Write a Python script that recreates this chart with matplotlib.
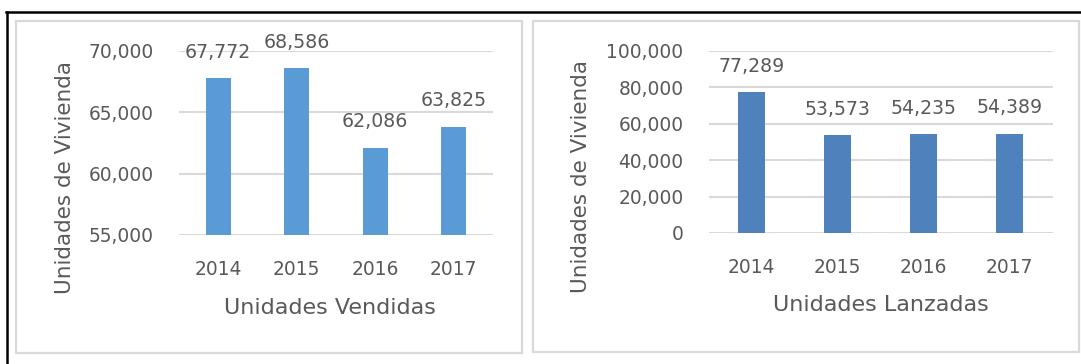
import matplotlib.pyplot as plt
from matplotlib.patches import Rectangle
from matplotlib.lines import Line2D
from matplotlib.ticker import FuncFormatter

# Datos de viviendas por año
years = ["2014", "2015", "2016", "2017"]
sold = [67772, 68586, 62086, 63825]
launched = [77289, 53573, 54235, 54389]

sold_ticks = [55000, 60000, 65000, 70000]
launched_ticks = [0, 20000, 40000, 60000, 80000, 100000]

W, H = 1081, 364
TEXT = "#595959"
GRID = "#D9D9D9"

plt.rcParams['font.family'] = ['DejaVu Sans']

fig = plt.figure(figsize=(W / 100, H / 100), dpi=100)


def px_axes(x0, y0, x1, y1):
    # pixel box (top-left origin) -> figure axes
    return fig.add_axes([x0 / W, 1 - y1 / H, (x1 - x0) / W, (y1 - y0) / H])


def panel_box(x0, y0, x1, y1):
    fig.patches.append(Rectangle((x0 / W, 1 - y1 / H), (x1 - x0) / W, (y1 - y0) / H,
                                 transform=fig.transFigure, fill=False,
                                 edgecolor=GRID, linewidth=1.6))


# marco negro exterior
fig.lines.append(Line2D([6 / W, 1], [1 - 11.5 / H, 1 - 11.5 / H], transform=fig.transFigure,
                        color="black", linewidth=1.8))
fig.lines.append(Line2D([6.5 / W, 6.5 / W], [0, 1 - 11.5 / H], transform=fig.transFigure,
                        color="black", linewidth=1.8))

panel_box(15.5, 21, 521.5, 353)
panel_box(533, 21, 1078.5, 352)

fmt = FuncFormatter(lambda v, p: f"{int(v):,}")


def style(ax, values, ticks, color, xlab, xl_pos, yl_pos):
    x = range(len(years))
    bars = ax.bar(x, values, width=0.32, color=color, zorder=3)
    ax.set_xlim(-0.5, len(years) - 0.5)
    ax.set_ylim(ticks[0], ticks[-1])
    ax.set_yticks(ticks)
    ax.yaxis.set_major_formatter(fmt)
    ax.set_xticks(list(x))
    ax.set_xticklabels(years)
    ax.grid(axis="y", color=GRID, linewidth=1.5, zorder=0)
    ax.set_axisbelow(True)
    for s in ax.spines.values():
        s.set_visible(False)
    ax.tick_params(axis="both", length=0, labelsize=13.4, colors=TEXT)
    ax.tick_params(axis="y", pad=18)
    ax.tick_params(axis="x", pad=18)
    ax.bar_label(bars, labels=[f"{v:,}" for v in values], padding=12,
                 fontsize=13.6, color=TEXT)
    for t in ax.texts:
        t.set_clip_on(False)
    ax.set_xlabel(xlab, fontsize=16, color=TEXT)
    ax.xaxis.set_label_coords(*xl_pos)
    ax.xaxis.label.set_verticalalignment("center")
    ax.set_ylabel("Unidades de Vivienda", fontsize=15.5, color=TEXT)
    ax.yaxis.set_label_coords(*yl_pos)
    ax.yaxis.label.set_verticalalignment("center")


ax1 = px_axes(179, 51, 493, 235)
style(ax1, sold, sold_ticks, "#5B9BD5", "Unidades Vendidas", (0.481, -0.397), (-0.363, 0.315))

ax2 = px_axes(708.5, 51, 1052.5, 233)
style(ax2, launched, launched_ticks, "#4F81BD", "Unidades Lanzadas", (0.501, -0.396), (-0.371, 0.308))

fig.savefig("out.png", dpi=100)
